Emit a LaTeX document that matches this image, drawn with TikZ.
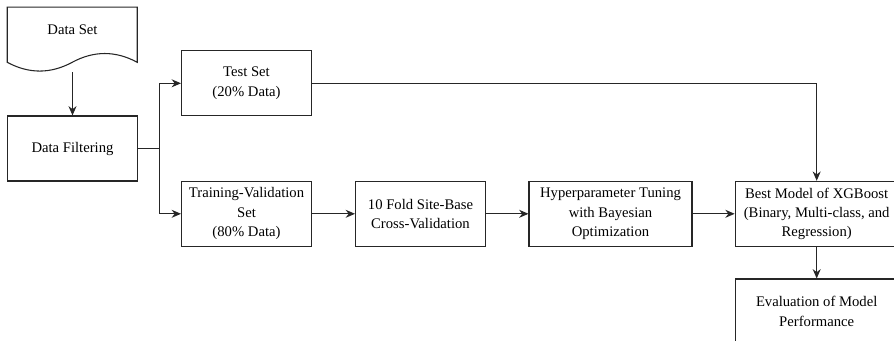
\documentclass[tikz,border=0pt]{standalone}
\usepackage{fontspec}
\setmainfont{Liberation Serif}
\usepackage{tikz}
\usetikzlibrary{arrows.meta,calc}

\begin{document}
\begin{tikzpicture}[x=0.75pt,y=-0.75pt]
\tikzstyle{every node}=[font=\fontsize{11}{14.5}\selectfont]
\tikzstyle{box}=[draw=black!85, line width=0.8pt, rectangle, align=center, inner sep=2pt,
	minimum width=97.5pt, minimum height=48.75pt]
\tikzstyle{widebox}=[box, minimum width=122.25pt]
\tikzstyle{arr}=[draw=black!85, line width=0.8pt, -{Stealth[length=7pt,width=6pt]}]

	\useasboundingbox (0,0) rectangle (894,340);

	% data set (document shape)
	\node[minimum width=97.5pt, minimum height=33.75pt, inner sep=0pt] (dataset) at (72.5,29.8) {Data Set};
	\draw[draw=black!85, line width=0.8pt, shift={(dataset.north west)}]
		(0,0) -- (130,0) -- (130,55.25)
		.. controls (108.3,43.55) and (86.7,43.55) .. (65,55.25)
		.. controls (43.3,66.95) and (21.7,66.95) .. (0,55.25) -- cycle;
	\coordinate (dsbot) at ($(dataset.north)+(0,65)$);

	\node[box] (filter) at (72.5,148.5) {Data Filtering};
	\node[box] (test) at (246.5,83.3) {Test Set\\(20\% Data)};
	\node[box] (tv) at (246.5,213.8) {Training-Validation\\Set\\(80\% Data)};
	\node[box] (fold) at (420.5,213.8) {10 Fold Site-Base\\Cross-Validation};
	\node[widebox] (hyper) at (610.5,213.8) {Hyperparameter Tuning\\with Bayesian\\Optimization};
	\node[widebox] (best) at (816.7,213.8) {Best Model of XGBoost\\(Binary, Multi-class, and\\Regression)};
	\node[widebox] (eval) at (816.7,311.5) {Evaluation of Model\\Performance};

	\draw[arr] (dsbot) -- (filter);
	\draw[arr] (filter.east) -- ++(21.8,0) |- (test.west);
	\draw[arr] (filter.east) -- ++(21.8,0) |- (tv.west);
	\draw[arr] (test.east) -| (best.north);
	\draw[arr] (tv) -- (fold);
	\draw[arr] (fold) -- (hyper);
	\draw[arr] (hyper) -- (best);
	\draw[arr] (best) -- (eval);
\end{tikzpicture}
\end{document}
